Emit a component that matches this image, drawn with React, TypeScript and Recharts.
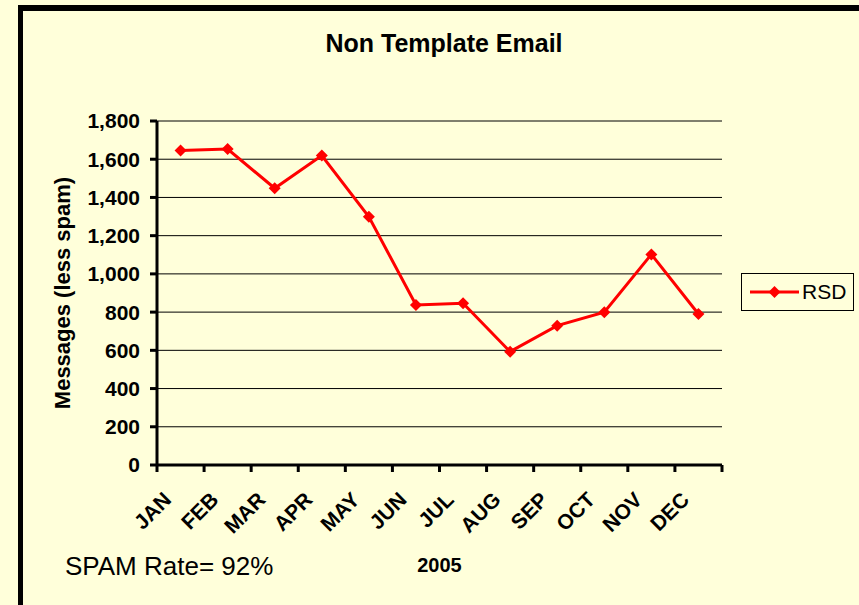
import React from 'react';
import { LineChart, Line, XAxis, YAxis, CartesianGrid } from 'recharts';

const months = ['JAN', 'FEB', 'MAR', 'APR', 'MAY', 'JUN', 'JUL', 'AUG', 'SEP', 'OCT', 'NOV', 'DEC'];
const rsd = [1645, 1653, 1448, 1619, 1299, 837, 846, 593, 729, 799, 1102, 790];
const yTicks = [0, 200, 400, 600, 800, 1000, 1200, 1400, 1600, 1800];
const edgeTicks = [0, 1, 2, 3, 4, 5, 6, 7, 8, 9, 10, 11, 12];

const data = months.map((m, i) => ({ month: m, pos: i + 0.5, rsd: rsd[i] }));

const FONT = 'Arial, "Liberation Sans", sans-serif';
const BG = '#FFFFDA';

const Diamond = (props: any) => {
  const { cx, cy } = props;
  if (cx == null || cy == null) return null;
  const r = 6;
  return <path d={`M${cx},${cy - r}L${cx + r},${cy}L${cx},${cy + r}L${cx - r},${cy}Z`} fill="#FF0000" />;
};

const MonthTick = (props: any) => {
  const { x, y, payload } = props;
  const ax = x - 8;
  const ay = y + 35;
  return (
    <text
      x={ax}
      y={ay}
      textAnchor="end"
      transform={`rotate(-45, ${ax}, ${ay})`}
      fontFamily={FONT}
      fontWeight="bold"
      fontSize={21}
      fill="#000"
    >
      {payload.value}
    </text>
  );
};

const NoLabel = () => <g />;

export default function App() {
  return (
    <div style={{ position: 'absolute', left: 0, top: 0, width: 859, height: 605, background: BG, overflow: 'hidden' }}>
      <div
        style={{
          position: 'absolute', left: 18, top: 5, width: 900, height: 700,
          borderLeft: '5px solid #000', borderTop: '6px solid #000', boxSizing: 'border-box',
        }}
      />
      <div
        style={{
          position: 'absolute', left: 244, top: 31, width: 400, textAlign: 'center',
          fontFamily: FONT, fontWeight: 'bold', fontSize: 25, lineHeight: '25px', color: '#000',
        }}
      >
        Non Template Email
      </div>
      <div
        style={{
          position: 'absolute', left: 65, top: 553, whiteSpace: 'nowrap',
          fontFamily: FONT, fontSize: 26, lineHeight: '26px', color: '#000',
        }}
      >
        SPAM Rate= 92%
      </div>
      <div style={{ position: 'absolute', left: 0, top: 0 }}>
        <LineChart width={859} height={605} data={data} margin={{ top: 121, right: 137, bottom: 60, left: 40 }}>
          <CartesianGrid xAxisId="b" horizontal vertical={false} stroke="#000" strokeWidth={1} />
          <XAxis
            xAxisId="a"
            type="number"
            dataKey="pos"
            domain={[0, 12]}
            ticks={edgeTicks}
            interval={0}
            height={1}
            tick={<NoLabel />}
            axisLine={{ stroke: '#000', strokeWidth: 3 }}
            tickLine={{ stroke: '#000', strokeWidth: 3 }}
            tickSize={7}
          />
          <XAxis
            xAxisId="b"
            dataKey="month"
            scale="band"
            height={79}
            axisLine={false}
            tickLine={false}
            tickSize={0}
            tickMargin={0}
            interval={0}
            tick={<MonthTick />}
            label={{
              content: (p: any) => {
                const vb = p.viewBox || {};
                return (
                  <text
                    x={vb.x + vb.width / 2}
                    y={vb.y + 99}
                    textAnchor="middle"
                    dominantBaseline="central"
                    fontFamily={FONT}
                    fontWeight="bold"
                    fontSize={20}
                    fill="#000"
                  >
                    2005
                  </text>
                );
              },
            }}
          />
          <YAxis
            domain={[0, 1800]}
            ticks={yTicks}
            width={117}
            interval={0}
            tickFormatter={(v: number) => v.toLocaleString('en-US')}
            axisLine={{ stroke: '#000', strokeWidth: 3 }}
            tickLine={{ stroke: '#000', strokeWidth: 3 }}
            tickSize={7}
            tickMargin={10}
            tick={{ fill: '#000', fontFamily: FONT, fontWeight: 'bold', fontSize: 21 }}
            label={{
              content: (p: any) => {
                const vb = p.viewBox || {};
                const cx = vb.x + 22;
                const cy = vb.y + vb.height / 2;
                return (
                  <text
                    x={cx}
                    y={cy}
                    textAnchor="middle"
                    dominantBaseline="central"
                    transform={`rotate(-90, ${cx}, ${cy})`}
                    fontFamily={FONT}
                    fontWeight="bold"
                    fontSize={22}
                    fill="#000"
                  >
                    Messages (less spam)
                  </text>
                );
              },
            }}
          />
          <Line
            xAxisId="b"
            type="linear"
            dataKey="rsd"
            name="RSD"
            stroke="#FF0000"
            strokeWidth={3}
            dot={<Diamond />}
            activeDot={false}
            isAnimationActive={false}
          />
        </LineChart>
      </div>
      <div
        style={{
          position: 'absolute', left: 741, top: 273, width: 113, height: 38,
          border: '1.5px solid #000', boxSizing: 'border-box', display: 'flex', alignItems: 'center',
        }}
      >
        <svg width={58} height={20} style={{ marginLeft: 6 }}>
          <line x1={2} y1={10} x2={51} y2={10} stroke="#FF0000" strokeWidth={3} />
          <path d="M26.5,4L32.5,10L26.5,16L20.5,10Z" fill="#FF0000" />
        </svg>
        <span style={{ fontFamily: FONT, fontSize: 21, color: '#000', marginLeft: -4 }}>RSD</span>
      </div>
    </div>
  );
}
